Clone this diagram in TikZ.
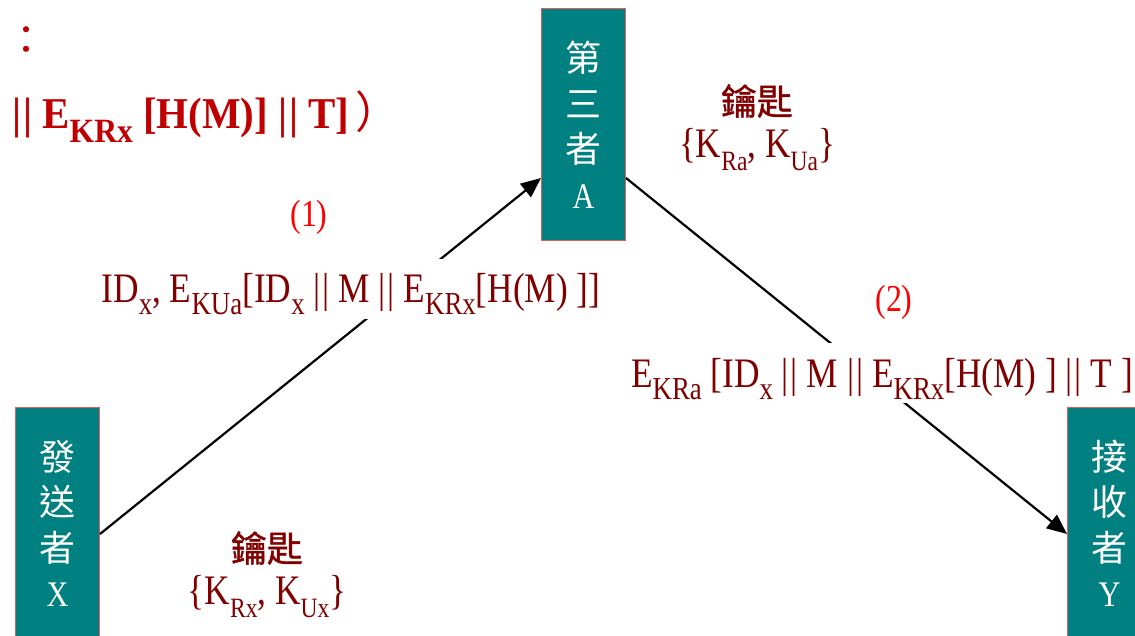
\documentclass[tikz,border=0pt]{standalone}
\usepackage{fontspec}
\setmainfont[FakeStretch=0.84]{Liberation Serif}
\newfontfamily\blat[FakeStretch=0.93]{Liberation Serif}
\newfontfamily\cjk{Noto Sans CJK TC}
\newfontfamily\cjkb[FakeBold=1.2]{Noto Sans CJK TC}
\usetikzlibrary{arrows.meta}
\definecolor{teal1}{RGB}{0,128,128}
\definecolor{boxedge}{RGB}{235,90,90}
\definecolor{maroon1}{RGB}{128,0,0}
\definecolor{red1}{RGB}{255,0,0}
\definecolor{red2}{RGB}{192,0,0}
\newcommand\sbs[1]{\raisebox{-12pt}{\fontsize{32}{32}\selectfont #1}}
\newcommand\ksb[1]{\raisebox{-13pt}{\fontsize{28}{28}\selectfont #1}}
\newcommand\bsb[1]{\raisebox{-14pt}{\fontsize{34}{34}\selectfont\bfseries #1}}
\newcommand\dbar{|\kern2pt|}
\tikzset{
  actor/.style={draw=boxedge, line width=1pt, fill=teal1, text=white,
    minimum width=84pt, minimum height=232pt, anchor=north west, align=center,
    inner sep=0pt, font=\fontsize{36}{45.5}\selectfont},
  conn/.style={draw=black, line width=2.2pt, -{Triangle[length=20pt,width=17pt]}},
  msg/.style={text=maroon1, fill=white, inner xsep=3pt, inner ysep=4pt,
    text height=40pt, text depth=12pt, anchor=base, font=\fontsize{42}{42}\selectfont},
  keyhead/.style={text=maroon1, inner sep=0pt, font=\cjkb\fontsize{36}{36}\selectfont},
  keyset/.style={text=maroon1, inner sep=0pt, anchor=base, font=\fontsize{42}{42}\selectfont},
  stepno/.style={text=red1, inner sep=0pt, font=\fontsize{38}{38}\selectfont}
}
\begin{document}
\begin{tikzpicture}[x=1pt,y=-1pt]
\useasboundingbox (0,0) rectangle (1135,636);
\clip (0,0) rectangle (1135,636);
% actor boxes
\node[actor] (A) at (541,8) {\cjk 第\\\cjk 三\\\cjk 者\\A};
\node[actor] (X) at (15,407) {\cjk 發\\\cjk 送\\\cjk 者\\X};
\node[actor] (Y) at (1067,407) {\cjk 接\\\cjk 收\\\cjk 者\\Y};
% connection points
\coordinate (xo) at ([yshift=106pt]X.south east);
\coordinate (ai) at ([yshift=63pt]A.south west);
\coordinate (ao) at ([yshift=63pt]A.south east);
\coordinate (yi) at ([yshift=106pt]Y.south west);
\draw[conn] (xo) -- (ai);
\draw[conn] (ao) -- (yi);
% message labels
\node[msg] (m1) at (351,303) {ID\sbs{x}, E\sbs{KUa}[ID\sbs{x} \dbar{} M \dbar{} E\sbs{KRx}[H(M) ]]};
\node[msg] (m2) at (882,387) {E\sbs{KRa} [ID\sbs{x} \dbar{} M \dbar{} E\sbs{KRx}[H(M) ] \dbar{} T ]};
\node[stepno] (s1) at (309,217) {(1)};
\node[stepno] (s2) at (894,302) {(2)};
% keys
\node[keyhead] (kah) at (757,101) {鑰匙};
\node[keyset] (kas) at (757,158) {\{K\ksb{Ra}, K\ksb{Ua}\}};
\node[keyhead] (kxh) at (267,548) {鑰匙};
\node[keyset] (kxs) at (267,604) {\{K\ksb{Rx}, K\ksb{Ux}\}};
% top-left text
\node[text=red2, inner sep=0pt, font=\cjk\fontsize{40}{40}\selectfont] (colon) at (26,41) {：};
\node[text=red2, inner sep=0pt, anchor=base west, font=\blat\bfseries\fontsize{44}{44}\selectfont] (formula) at (12,129) {\dbar{} E\bsb{KRx} [H(M)] \dbar{} T]\kern6pt{\cjk\mdseries ）}};
\end{tikzpicture}
\end{document}
